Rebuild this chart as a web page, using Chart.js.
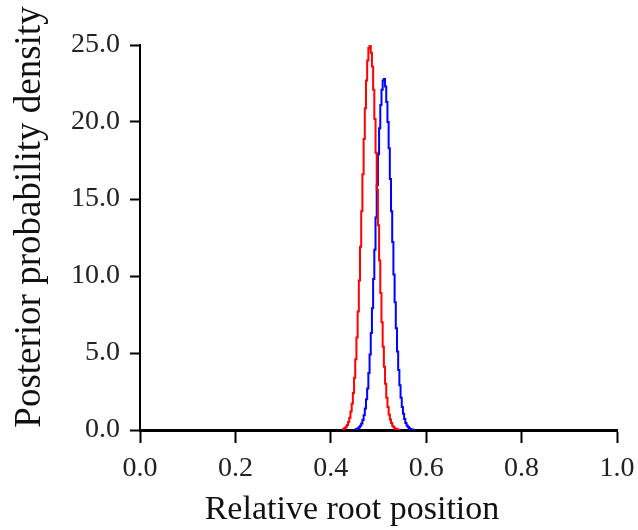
<!DOCTYPE html>
<html>
<head>
<meta charset="utf-8">
<script src="https://cdn.jsdelivr.net/npm/chart.js@4/dist/chart.umd.min.js"></script>
<style>
  html, body { margin: 0; padding: 0; background: #fff; }
  #wrap { width: 638px; height: 530px; position: relative; }
</style>
</head>
<body>
<div id="wrap"><canvas id="chart"></canvas></div>
<script>
// Posterior density of the relative root position, two runs (binned, step curves)
const redX = [0.4250, 0.4275, 0.4300, 0.4325, 0.4350, 0.4375, 0.4400, 0.4425, 0.4450, 0.4475,
              0.4500, 0.4525, 0.4550, 0.4575, 0.4600, 0.4625, 0.4650, 0.4675, 0.4700, 0.4725,
              0.4750, 0.4775, 0.4800, 0.4825, 0.4850, 0.4875, 0.4900, 0.4925, 0.4950, 0.4975,
              0.5000, 0.5025, 0.5050, 0.5075, 0.5100, 0.5125, 0.5150, 0.5175, 0.5200, 0.5225,
              0.5250, 0.5275, 0.5300, 0.5325, 0.5350, 0.5375, 0.5400, 0.5425, 0.5450];
const redY = [0.0, 0.08, 0.13, 0.21, 0.33, 0.52, 0.8, 1.2, 1.7, 2.4,
              3.4, 4.6, 6.0, 7.7, 9.7, 11.9, 14.2, 16.6, 18.9, 20.9,
              22.7, 24.0, 24.8, 25.1, 24.5, 23.6, 22.1, 20.2, 18.0, 15.6,
              13.3, 11.0, 8.9, 7.0, 5.4, 4.1, 3.0, 2.1, 1.5, 1.0,
              0.68, 0.45, 0.28, 0.18, 0.1, 0.06, 0.04, 0.02, 0.0];

const blueX = [0.4500, 0.4525, 0.4550, 0.4575, 0.4600, 0.4625, 0.4650, 0.4675, 0.4700, 0.4725,
               0.4750, 0.4775, 0.4800, 0.4825, 0.4850, 0.4875, 0.4900, 0.4925, 0.4950, 0.4975,
               0.5000, 0.5025, 0.5050, 0.5075, 0.5100, 0.5125, 0.5150, 0.5175, 0.5200, 0.5225,
               0.5250, 0.5275, 0.5300, 0.5325, 0.5350, 0.5375, 0.5400, 0.5425, 0.5450, 0.5475,
               0.5500, 0.5525, 0.5550, 0.5575, 0.5600, 0.5625, 0.5650, 0.5675, 0.5700, 0.5725, 0.5750];
const blueY = [0.0, 0.04, 0.07, 0.11, 0.18, 0.28, 0.43, 0.65, 0.96, 1.4,
               2.0, 2.7, 3.7, 4.9, 6.3, 7.9, 9.8, 11.7, 13.8, 15.9,
               17.9, 19.6, 21.1, 22.1, 22.7, 22.8, 22.3, 21.3, 20.0, 18.3,
               16.3, 14.2, 12.2, 10.1, 8.3, 6.6, 5.1, 3.9, 2.9, 2.1,
               1.5, 1.05, 0.71, 0.46, 0.3, 0.19, 0.12, 0.07, 0.04, 0.02, 0.0];

const xTicks = [0.0, 0.2, 0.4, 0.6, 0.8, 1.0];
const yTicks = [0, 5, 10, 15, 20, 25];

const xTitle = "Relative root position";
const yTitle = "Posterior probability density";

const FONT = "'Liberation Serif', 'Times New Roman', serif";

function toPoints(xs, ys) {
  return xs.map((x, i) => ({ x: x, y: ys[i] }));
}

// axis titles drawn by hand so they sit where the original has them
const titlePlugin = {
  id: "axisTitles",
  afterDraw(chart) {
    const ctx = chart.ctx;
    ctx.save();
    ctx.fillStyle = "#111";
    ctx.font = "34px " + FONT;
    ctx.textAlign = "center";
    ctx.textBaseline = "alphabetic";
    ctx.fillText(xTitle, 352, 519);
    ctx.translate(40, 217);
    ctx.rotate(-Math.PI / 2);
    ctx.font = "37px " + FONT;
    ctx.fillText(yTitle, 0, 0);
    ctx.restore();
  }
};

new Chart(document.getElementById("chart"), {
  type: "line",
  data: {
    datasets: [
      {
        data: toPoints(redX, redY),
        borderColor: "#ff0000",
        borderWidth: 2,
        pointRadius: 0,
        stepped: "middle",
        fill: false,
      },
      {
        data: toPoints(blueX, blueY),
        borderColor: "#0000ff",
        borderWidth: 2,
        pointRadius: 0,
        stepped: "middle",
        fill: false,
      },
    ],
  },
  options: {
    responsive: true,
    maintainAspectRatio: false,
    animation: false,
    layout: { padding: { left: 0, top: 45, right: 21, bottom: 0 } },
    plugins: {
      legend: { display: false },
      tooltip: { enabled: false },
    },
    scales: {
      x: {
        type: "linear",
        min: 0,
        max: 1,
        afterFit: (scale) => {
          scale.height = 100;
          scale.paddingLeft = 0;
          scale.paddingRight = 0;
        },
        afterBuildTicks: (scale) => { scale.ticks = xTicks.map((v) => ({ value: v })); },
        border: { display: true, color: "#000", width: 3 },
        grid: { drawOnChartArea: false, drawTicks: true, tickLength: 13, tickWidth: 2, tickColor: "#000" },
        ticks: {
          color: "#222",
          padding: 9,
          maxRotation: 0,
          font: { family: FONT, size: 28 },
          callback: (v) => Number(v).toFixed(1),
        },
      },
      y: {
        min: 0,
        max: 25,
        afterFit: (scale) => {
          scale.width = 140;
          scale.paddingTop = 0;
          scale.paddingBottom = 0;
        },
        afterBuildTicks: (scale) => { scale.ticks = yTicks.map((v) => ({ value: v })); },
        border: { display: true, color: "#000", width: 2 },
        grid: { drawOnChartArea: false, drawTicks: true, tickLength: 10, tickWidth: 2, tickColor: "#000" },
        ticks: {
          color: "#222",
          padding: 10,
          font: { family: FONT, size: 28 },
          callback: (v) => Number(v).toFixed(1),
        },
      },
    },
  },
  plugins: [titlePlugin],
});
</script>
</body>
</html>
